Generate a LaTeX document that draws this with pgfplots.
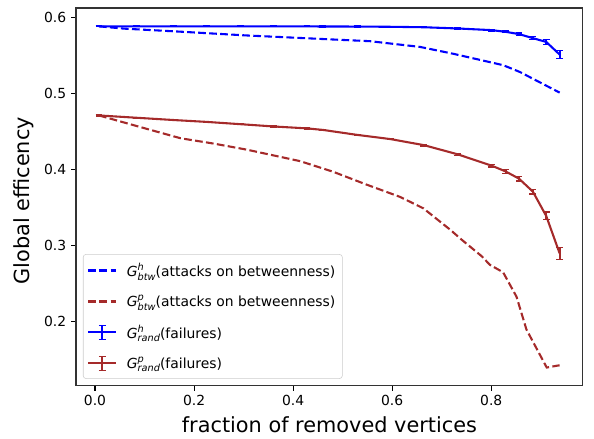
\documentclass[border=0pt]{standalone}
\usepackage{fontspec}
\setmainfont{DejaVu Sans}
\usepackage{pgfplots}
\pgfplotsset{compat=1.18}
\usepackage{pgfplotstable}

\definecolor{mplbrown}{RGB}{165,42,42}
\definecolor{mplblue}{RGB}{0,0,255}

\newcommand{\G}[2]{\textit{G}\makebox[0pt][l]{\raisebox{0.8ex}{\fontsize{7}{8}\selectfont\textit{#1}}}\raisebox{-0.5ex}{\fontsize{7}{8}\selectfont\textit{#2}}}

\pgfplotsset{
  errlegend/.style={legend image code/.code={\draw[##1] (0pt,0pt) -- (20pt,0pt);
    \draw[##1] (10pt,-5pt) -- (10pt,5pt);
    \draw[##1, line width=1pt] (7.5pt,-5pt) -- (12.5pt,-5pt) (7.5pt,5pt) -- (12.5pt,5pt);
    \path (25pt,0pt);}},
  linelegend/.style={legend image code/.code={\draw[##1] (0pt,0pt) -- (20pt,0pt); \path (25pt,0pt);}},
}

\pgfplotstableread{
x y e
0.008 0.5880 0.0005
0.083 0.5880 0.0005
0.158 0.5880 0.0005
0.226 0.5880 0.0005
0.294 0.5880 0.0005
0.361 0.5880 0.0005
0.428 0.5879 0.0005
0.460 0.5878 0.0005
0.529 0.5877 0.0005
0.596 0.5874 0.0006
0.664 0.5868 0.0006
0.732 0.5852 0.0008
0.801 0.5830 0.0010
0.829 0.5808 0.0012
0.856 0.5778 0.0015
0.884 0.5725 0.0020
0.911 0.5675 0.0030
0.938 0.5510 0.0050
}\bluerand

\pgfplotstableread{
x y e
0.008 0.4710 0.0005
0.083 0.4680 0.0005
0.158 0.4650 0.0006
0.226 0.4625 0.0006
0.294 0.4595 0.0006
0.361 0.4565 0.0007
0.428 0.4540 0.0007
0.460 0.4520 0.0008
0.529 0.4455 0.0008
0.596 0.4400 0.0009
0.664 0.4320 0.0010
0.732 0.4200 0.0012
0.801 0.4050 0.0015
0.829 0.3975 0.0025
0.856 0.3880 0.0030
0.884 0.3710 0.0030
0.911 0.3390 0.0050
0.938 0.2900 0.0080
}\redrand

\pgfplotstableread{
x y
0.008 0.588
0.058 0.585
0.172 0.581
0.307 0.576
0.471 0.571
0.555 0.5685
0.656 0.561
0.723 0.552
0.824 0.537
0.858 0.528
0.938 0.501
}\bluebtw

\pgfplotstableread{
x y
0.008 0.471
0.090 0.456
0.173 0.441
0.240 0.434
0.307 0.426
0.414 0.411
0.481 0.397
0.549 0.380
0.616 0.364
0.663 0.349
0.717 0.321
0.740 0.308
0.781 0.286
0.797 0.275
0.824 0.265
0.851 0.233
0.871 0.190
0.912 0.140
0.938 0.143
}\redbtw

\begin{document}
\begin{tikzpicture}
\begin{axis}[
  scale only axis,
  width=365pt, height=272pt,
  xmin=-0.0385, xmax=0.985,
  ymin=0.116, ymax=0.612,
  xtick={0,0.2,0.4,0.6,0.8},
  ytick={0.2,0.3,0.4,0.5,0.6},
  xtick pos=lower, ytick pos=left,
  tick align=outside,
  major tick length=3.5pt,
  every tick/.style={black, line width=0.8pt},
  axis line style={black!80, line width=0.8pt},
  tick label style={font=\fontsize{10}{12}\selectfont},
  /pgf/number format/assume math mode=true,
  xticklabel style={/pgf/number format/.cd, fixed, fixed zerofill, precision=1},
  yticklabel style={/pgf/number format/.cd, fixed, fixed zerofill, precision=1},
  xlabel={fraction of removed vertices},
  ylabel={Global efficency},
  label style={font=\fontsize{15}{18}\selectfont},
  xlabel style={at={(axis description cs:0.5,-0.103)}, anchor=center},
  ylabel style={at={(axis description cs:-0.103,0.49)}, anchor=center},
  legend cell align=left,
  legend style={
    at={(axis description cs:0.0138,0.0185)}, anchor=south west,
    draw=black!20, rounded corners=2pt, fill=white, fill opacity=0.8, text opacity=1,
    font=\fontsize{10}{12}\selectfont,
    row sep=7.8pt, inner xsep=3pt, inner ysep=4pt,
  },
]
\addplot[mplblue, line width=1.5pt, dash pattern=on 5.55pt off 2.4pt, linelegend] table[x=x,y=y] {\bluebtw};
\addlegendentry{\G{h}{btw}(attacks on betweenness)}
\addplot[mplbrown, line width=1.5pt, dash pattern=on 5.55pt off 2.4pt, linelegend] table[x=x,y=y] {\redbtw};
\addlegendentry{\G{p}{btw}(attacks on betweenness)}
\addplot[mplblue, line width=1.5pt, errlegend,
  error bars/.cd, y dir=both, y explicit,
  error bar style={line width=1.5pt},
  error mark options={rotate=90, mark size=2.5pt, line width=1pt}]
  table[x=x,y=y,y error=e] {\bluerand};
\addlegendentry{\G{h}{rand}(failures)}
\addplot[mplbrown, line width=1.5pt, errlegend,
  error bars/.cd, y dir=both, y explicit,
  error bar style={line width=1.5pt},
  error mark options={rotate=90, mark size=2.5pt, line width=1pt}]
  table[x=x,y=y,y error=e] {\redrand};
\addlegendentry{\G{p}{rand}(failures)}
\end{axis}
\pgfresetboundingbox
\useasboundingbox ([shift={(-54.7pt,-38.2pt)}]current axis.south west) rectangle ([shift={(8pt,5.8pt)}]current axis.north east);
\end{tikzpicture}
\end{document}
